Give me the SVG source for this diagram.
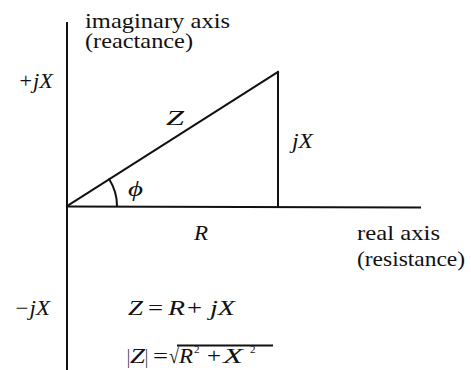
<svg xmlns="http://www.w3.org/2000/svg" width="471" height="370" viewBox="0 0 471 370">
<style>
text{fill:#111;font-size:21px;font-family:'Liberation Serif','Times New Roman',Tinos,serif}
.i{font-style:italic}
.s{font-size:11px}
.z{font-size:22px}
.ln{stroke:#111;stroke-width:2;fill:none;stroke-linecap:square}
</style>
<rect width="471" height="370" fill="#fff"/>
<g id="connectors">
<line class="ln" x1="67" y1="23" x2="67" y2="370"/>
<line class="ln" x1="67" y1="206.5" x2="420" y2="207.5"/>
<line class="ln" x1="67" y1="206" x2="278" y2="72"/>
<line class="ln" x1="278" y1="72" x2="278" y2="206"/>
<path class="ln" d="M117 206 A50 50 0 0 0 109.2 179.2" stroke-width="1.6"/>
</g>
<g id="imag-axis-label">
<text x="85" y="28" textLength="145" lengthAdjust="spacingAndGlyphs">imaginary axis</text>
<text x="85" y="48" textLength="108" lengthAdjust="spacingAndGlyphs">(reactance)</text>
</g>
<g id="plus-jx"><text class="i" x="18" y="88" textLength="35" lengthAdjust="spacingAndGlyphs">+jX</text></g>
<g id="minus-jx"><text class="i" x="14" y="315" textLength="36" lengthAdjust="spacingAndGlyphs">−jX</text></g>
<g id="z-label"><text class="i z" x="166" y="125" textLength="18" lengthAdjust="spacingAndGlyphs">Z</text></g>
<g id="jx-label"><text class="i" x="292" y="148" textLength="21" lengthAdjust="spacingAndGlyphs">jX</text></g>
<g id="phi-label"><text class="i" x="128" y="196" textLength="15" lengthAdjust="spacingAndGlyphs">ϕ</text></g>
<g id="r-label"><text class="i" x="194" y="240" textLength="14" lengthAdjust="spacingAndGlyphs">R</text></g>
<g id="real-axis-label">
<text x="357" y="240" textLength="83" lengthAdjust="spacingAndGlyphs">real axis</text>
<text x="357" y="266" textLength="108" lengthAdjust="spacingAndGlyphs">(resistance)</text>
</g>
<g id="eq1">
<text class="i" x="128" y="315" textLength="15" lengthAdjust="spacingAndGlyphs">Z</text>
<text x="148" y="315" textLength="15" lengthAdjust="spacingAndGlyphs">=</text>
<text class="i" x="168" y="315" textLength="17" lengthAdjust="spacingAndGlyphs">R</text>
<text x="187" y="315" textLength="15" lengthAdjust="spacingAndGlyphs">+</text>
<text class="i" x="210" y="315" textLength="25" lengthAdjust="spacingAndGlyphs">jX</text>
</g>
<g id="eq2">
<text x="127" y="363" textLength="3" lengthAdjust="spacingAndGlyphs">|</text>
<text class="i" x="130" y="363" textLength="15" lengthAdjust="spacingAndGlyphs">Z</text>
<text x="145" y="363" textLength="3" lengthAdjust="spacingAndGlyphs">|</text>
<text x="153" y="363" textLength="15" lengthAdjust="spacingAndGlyphs">=</text>
<text x="169" y="363" textLength="10" lengthAdjust="spacingAndGlyphs">√</text>
<line class="ln" x1="178" y1="345.5" x2="272" y2="345.5" stroke-width="1.3" stroke-linecap="butt"/>
<text class="i" x="179" y="363" textLength="14" lengthAdjust="spacingAndGlyphs">R</text>
<text class="s" x="194" y="353">2</text>
<text x="207" y="363" textLength="14" lengthAdjust="spacingAndGlyphs">+</text>
<text class="i" x="223" y="363" textLength="20" lengthAdjust="spacingAndGlyphs">X</text>
<text class="s" x="250" y="353">2</text>
</g>
</svg>
